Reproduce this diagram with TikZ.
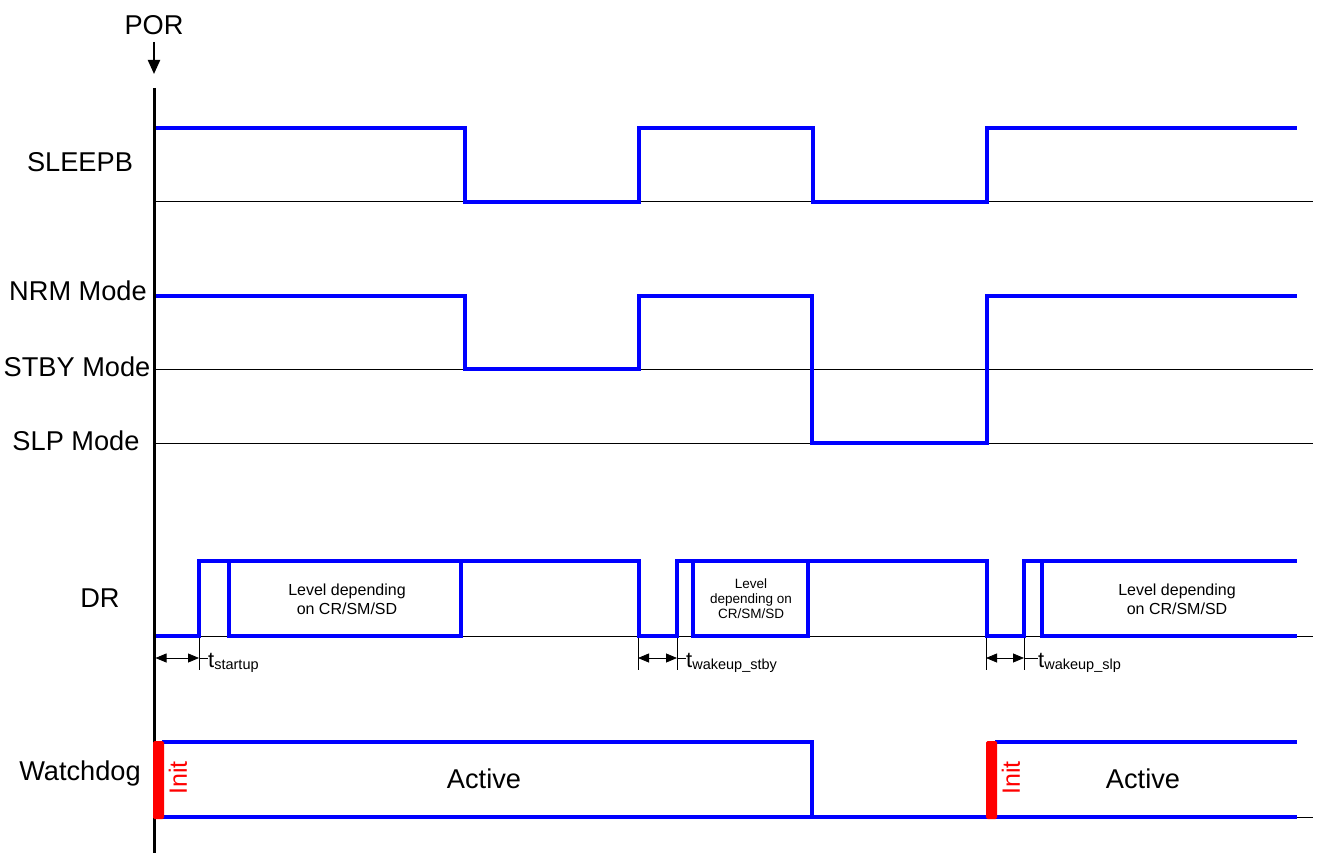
\documentclass[tikz,border=0pt]{standalone}
\usepackage{fontspec}
\setmainfont{Liberation Sans}
\usetikzlibrary{arrows.meta}
\definecolor{sigblue}{RGB}{0,0,255}
\definecolor{initred}{RGB}{255,0,0}
\begin{document}
\begin{tikzpicture}[x=1pt,y=-1pt,
  sig/.style={draw=sigblue,line width=3.2pt,line join=miter,line cap=butt},
  baseln/.style={draw=black,line width=1pt},
  lbl/.style={font=\fontsize{27.2}{31}\selectfont,inner sep=0pt,anchor=base},
  lvl/.style={font=\fontsize{16}{19}\selectfont,inner sep=0pt,anchor=base},
  lvlsm/.style={font=\fontsize{13.5}{15}\selectfont,inner sep=0pt,anchor=base},
  dimln/.style={draw=black,line width=0.8pt},
  dimarr/.style={dimln,{Triangle[length=11pt,width=9pt]}-{Triangle[length=11pt,width=9pt]}},
  tlbl/.style={inner sep=0pt,anchor=base west},
  initbar/.style={fill=initred,draw=none,rounded corners=1.5pt},
  initlbl/.style={font=\fontsize{25}{28}\selectfont,text=initred,inner sep=0pt,rotate=90},
]
\useasboundingbox (0,0) rectangle (1322,853);

% POR marker and time axis
\node[lbl] (por) at (154,35) {POR};
\coordinate (porA) at (154,42);
\coordinate (porB) at (154,74);
\draw[line width=2.2pt,-{Triangle[length=14pt,width=12pt]}] (porA) -- (porB);
\draw[line width=3pt] (154,88) -- (154,853);

% signal labels
\node[lbl] (sleepb) at (80,172) {SLEEPB};
\node[lbl] (nrm) at (78,300) {NRM Mode};
\node[lbl] (stby) at (77,376) {STBY Mode};
\node[lbl] (slp) at (76,450) {SLP Mode};
\node[lbl] (dr) at (100,607) {DR};
\node[lbl] (wd) at (80,780) {Watchdog};

% baselines
\draw[baseln] (156,202) -- (1313,202);
\draw[baseln] (156,369) -- (1313,369);
\draw[baseln] (156,443) -- (1313,443);
\draw[baseln] (156,636) -- (1313,636);
\draw[baseln] (156,817) -- (1313,817);

% SLEEPB
\draw[sig] (156,128) -- (465,128) -- (465,202) -- (639,202) -- (639,128)
  -- (813,128) -- (813,202) -- (987,202) -- (987,128) -- (1297,128);

% Mode
\draw[sig] (156,296) -- (465,296) -- (465,369) -- (639,369) -- (639,296)
  -- (812,296) -- (812,443) -- (987,443) -- (987,296) -- (1297,296);

% DR
\draw[sig] (156,636) -- (199,636) -- (199,561) -- (639,561) -- (639,636)
  -- (677,636) -- (677,561) -- (987,561) -- (987,636) -- (1024,636)
  -- (1024,561) -- (1297,561);
\draw[sig] (229,561) -- (229,636) -- (461,636) -- (461,561);
\draw[sig] (693,561) -- (693,636) -- (808,636) -- (808,561);
\draw[sig] (1042,561) -- (1042,636) -- (1297,636);

\node[lvl] (lvlA1) at (347,595) {Level depending};
\node[lvl] (lvlA2) at (347,614) {on CR/SM/SD};
\node[lvlsm] (lvlB1) at (751,588) {Level};
\node[lvlsm] (lvlB2) at (751,603) {depending on};
\node[lvlsm] (lvlB3) at (751,618) {CR/SM/SD};
\node[lvl] (lvlC1) at (1177,595) {Level depending};
\node[lvl] (lvlC2) at (1177,614) {on CR/SM/SD};

% timing dimensions
\draw[dimln] (199,638) -- (199,670);
\draw[dimarr] (155.5,658) -- (199,658);
\draw[dimln] (199,658) -- (208,658);
\node[tlbl] (tsu) at (208,667) {\fontsize{22}{24}\selectfont t\fontsize{14.5}{16}\selectfont\raisebox{-2.5pt}{startup}};

\draw[dimln] (638,638) -- (638,670);
\draw[dimln] (677,638) -- (677,670);
\draw[dimarr] (638,658) -- (677,658);
\draw[dimln] (677,658) -- (686,658);
\node[tlbl] (tws) at (686,667) {\fontsize{22}{24}\selectfont t\fontsize{14.5}{16}\selectfont\raisebox{-2.5pt}{wakeup\_stby}};

\draw[dimln] (986,638) -- (986,670);
\draw[dimln] (1024,638) -- (1024,670);
\draw[dimarr] (986,658) -- (1024,658);
\draw[dimln] (1024,658) -- (1038,658);
\node[tlbl] (twl) at (1038,667) {\fontsize{22}{24}\selectfont t\fontsize{14.5}{16}\selectfont\raisebox{-2.5pt}{wakeup\_slp}};

% Watchdog
\draw[sig] (156,817) -- (1297,817);
\draw[sig] (162,742) -- (812,742) -- (812,817);
\draw[sig] (995,742) -- (1297,742);
\fill[initbar] (153,741) rectangle (164,819);
\fill[initbar] (986,741) rectangle (997,819);
\node[initlbl] (init1) at (178,778) {Init};
\node[initlbl] (init2) at (1011,778) {Init};
\node[lbl] (act1) at (484,788) {Active};
\node[lbl] (act2) at (1143,788) {Active};
\end{tikzpicture}
\end{document}
